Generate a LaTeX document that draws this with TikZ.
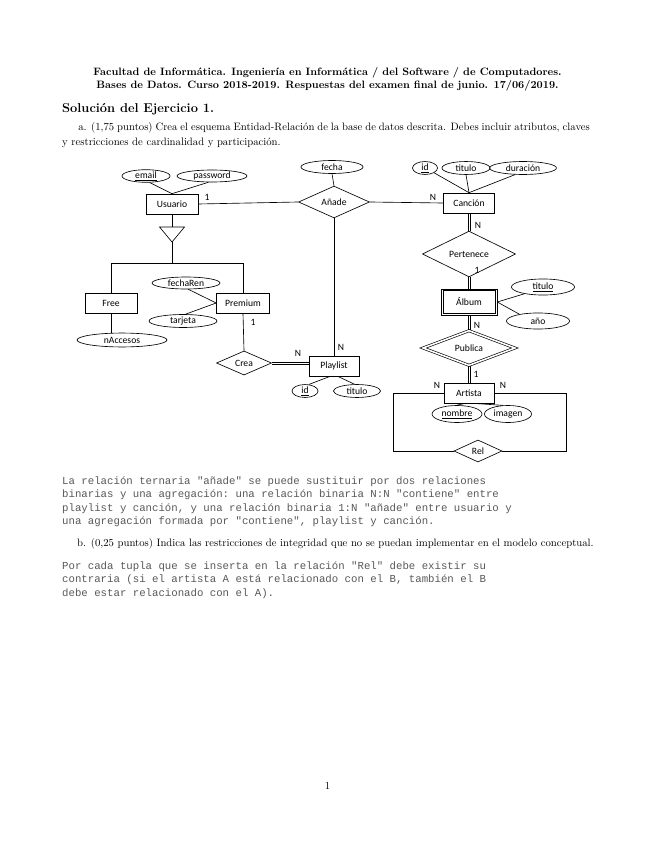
\documentclass[tikz,border=0pt]{standalone}
\usepackage{fontspec}
\setmonofont{Liberation Mono}
\newfontfamily\erfont{Carlito}
\usetikzlibrary{shapes.geometric}
\tikzset{
  er/.style={line width=0.6pt},
  entidad/.style={er, draw, rectangle, inner sep=1pt, minimum height=18.7pt, font=\erfont\fontsize{9}{10}\selectfont},
  relacion/.style={er, draw, diamond, inner sep=0pt, font=\erfont\fontsize{9}{10}\selectfont},
  reldebil/.style={relacion, double, double distance=1.5pt},
  atributo/.style={er, draw, ellipse, inner sep=0pt, font=\erfont\fontsize{9}{10}\selectfont},
  card/.style={inner sep=0pt, font=\erfont\fontsize{9}{10}\selectfont},
  texto/.style={inner sep=0pt, font=\fontsize{10}{13.1}\selectfont},
  codigo/.style={inner sep=0pt, anchor=base west, text=black!65, font=\ttfamily\fontsize{10}{12}\selectfont},
}
% lineas dobles (participacion total)
\newcommand{\dobleV}[2]{\draw[er] ([xshift=-1.1pt]#1) -- ([xshift=-1.1pt]#2); \draw[er] ([xshift=1.1pt]#1) -- ([xshift=1.1pt]#2);}
\newcommand{\dobleH}[2]{\draw[er] ([yshift=-1.1pt]#1) -- ([yshift=-1.1pt]#2); \draw[er] ([yshift=1.1pt]#1) -- ([yshift=1.1pt]#2);}
\begin{document}
\begin{tikzpicture}[x=0.9344pt, y=-0.9344pt]
\useasboundingbox[fill=white] (0,0) rectangle (655,848);

% cabecera
\node[texto, anchor=base] (cab1) at (327.5,76) {\bfseries Facultad de Informática. Ingeniería en Informática / del Software / de Computadores.};
\node[texto, anchor=base] (cab2) at (327.5,89) {\bfseries Bases de Datos. Curso 2018-2019. Respuestas del examen final de junio. 17/06/2019.};
\node[texto, anchor=base west, font=\fontsize{12}{14}\bfseries] (ejer) at (62,113) {Solución del Ejercicio 1.};
\node[texto, anchor=base west, text width=493pt, align=justify] (apta) at (62,131)
  {\hspace*{15pt}a. (1,75 puntos) Crea el esquema Entidad-Relación de la base de datos descrita. Debes incluir atributos, claves\linebreak y restricciones de cardinalidad y participación.};

% usuario y especializacion
\node[entidad, minimum width=48.6pt] (usuario) at (172,204) {Usuario};
\node[atributo, minimum width=44.9pt, minimum height=11.2pt] (email) at (146,176) {\underline{email}};
\node[atributo, minimum width=65.4pt, minimum height=11.2pt] (password) at (212,176) {password};
\draw[er] (email.300) -- (usuario.north);
\draw[er] (password.240) -- (usuario.north);
\coordinate (isaizq) at (159.5,227);
\coordinate (isader) at (184.5,227);
\coordinate (isabot) at (172,242);
\coordinate (barra) at (172,263);
\draw[er] (isaizq) -- (isader) -- (isabot) -- cycle;
\draw[er] (usuario.south) -- (usuario.south |- isaizq);
\draw[er] (isabot) -- (barra);
\node[entidad, minimum width=48.6pt] (free) at (111,303) {Free};
\node[entidad, minimum width=49.5pt] (premium) at (243,303) {Premium};
\draw[er] (free.north) -- (free.north |- barra) -- (premium.north |- barra) -- (premium.north);
\node[atributo, minimum width=63.5pt, minimum height=11.2pt] (fecharen) at (186,283) {fechaRen};
\node[atributo, minimum width=63.5pt, minimum height=12.1pt] (tarjeta) at (183,321) {tarjeta};
\node[atributo, minimum width=84pt, minimum height=13pt] (naccesos) at (122,340) {nAccesos};
\draw[er] (fecharen.-70) -- (premium.west);
\draw[er] (tarjeta.70) -- (premium.west);
\draw[er] (free.south) -- (free.south |- naccesos.north);

% playlist
\node[relacion, minimum width=51.4pt, minimum height=20.6pt] (crea) at (244,363) {Crea};
\node[entidad, minimum width=46.7pt] (playlist) at (334,366) {Playlist};
\node[atributo, minimum width=24.3pt, minimum height=12.1pt] (idp) at (305,391) {\underline{id}};
\node[atributo, minimum width=44pt, minimum height=12.1pt] (titulop) at (357,391) {titulo};
\draw[er] (premium.south) -- (crea.north);
\dobleH{crea.east}{crea.east -| playlist.west}
\draw[er] (playlist.250) -- (idp.60);
\draw[er] (playlist.290) -- (titulop.110);
\node[card] (c1) at (253,322) {1};
\node[card] (c2) at (298,353) {N};
\node[card] (c3) at (341,347) {N};

% anade
\node[relacion, minimum width=66.3pt, minimum height=21.5pt] (anade) at (334,202) {Añade};
\node[atributo, minimum width=58pt, minimum height=12.1pt] (fecha) at (332,167) {fecha};
\draw[er] (fecha.south) -- (anade.north);
\draw[er] (usuario.east) -- (anade.west);
\draw[er] (playlist.north) -- (anade.south);
\node[card] (c4) at (207,197) {1};

% cancion y album
\node[entidad, minimum width=47.7pt] (cancion) at (469,203) {Canción};
\node[atributo, minimum width=23.4pt, minimum height=12.1pt] (idc) at (425,168) {\underline{id}};
\node[atributo, minimum width=44.9pt, minimum height=12.1pt] (tituloc) at (466,168) {titulo};
\node[atributo, minimum width=62.6pt, minimum height=12.1pt] (duracion) at (523,168) {duración};
\draw[er] (idc.south east) -- (cancion.north);
\draw[er] (tituloc.south) -- (cancion.north);
\draw[er] (duracion.220) -- (cancion.north);
\draw[er] (anade.east) -- (cancion.west);
\node[card] (c5) at (433,197) {N};
\node[relacion, minimum width=87pt, minimum height=20.6pt] (pertenece) at (469,254) {Pertenece};
\dobleV{cancion.south}{pertenece.north}
\node[card] (c6) at (478,225) {N};
\node[entidad, minimum width=52.3pt, minimum height=24.3pt] (album) at (469,302) {Álbum};
\draw[er] ([shift={(2pt,-2pt)}]album.north west) rectangle ([shift={(-2pt,2pt)}]album.south east);
\dobleV{pertenece.south}{album.north}
\node[card] (c7) at (477,270) {1};
\node[atributo, minimum width=58.9pt, minimum height=15pt] (tituloa) at (543,287) {\underline{titulo}};
\node[atributo, minimum width=58.9pt, minimum height=15pt] (ano) at (538,321) {año};
\draw[er] (album.east) -- (tituloa.200);
\draw[er] (album.east) -- (ano.160);

% artista
\node[reldebil, minimum width=86pt, minimum height=23.5pt] (publica) at (469,348) {Publica};
\dobleV{album.south}{publica.north}
\node[card] (c8) at (477,325) {N};
\node[entidad, minimum width=46.7pt] (artista) at (469,393) {Artista};
\dobleV{publica.south}{artista.north}
\node[card] (c9) at (476,374) {1};
\node[atributo, minimum width=46.7pt, minimum height=15.9pt] (nombre) at (457,414) {\underline{nombre}};
\node[atributo, minimum width=44pt, minimum height=15.9pt] (imagen) at (508,414) {imagen};
\draw[er] (artista.250) -- (nombre.north);
\draw[er] (artista.290) -- (imagen.120);
\node[relacion, minimum width=44.9pt, minimum height=20.6pt] (rel) at (478,451) {Rel};
\coordinate (bucleizq) at (393,451);
\coordinate (bucleder) at (566,451);
\draw[er] (artista.west) -| (bucleizq) -- (rel.west);
\draw[er] (artista.east) -| (bucleder) -- (rel.east);
\node[card] (c10) at (437,385) {N};
\node[card] (c11) at (503,385) {N};

% respuestas
\node[codigo] (r1) at (62,484) {La relación ternaria "añade" se puede sustituir por dos relaciones};
\node[codigo] (r2) at (62,497.5) {binarias y una agregación: una relación binaria N:N "contiene" entre};
\node[codigo] (r3) at (62,511) {playlist y canción, y una relación binaria 1:N "añade" entre usuario y};
\node[codigo] (r4) at (62,524.5) {una agregación formada por "contiene", playlist y canción.};
\node[texto, anchor=base west] (aptb) at (77,546) {b. (0,25 puntos) Indica las restricciones de integridad que no se puedan implementar en el modelo conceptual.};
\node[codigo] (r5) at (62,569) {Por cada tupla que se inserta en la relación "Rel" debe existir su};
\node[codigo] (r6) at (62,582.5) {contraria (si el artista A está relacionado con el B, también el B};
\node[codigo] (r7) at (62,596) {debe estar relacionado con el A).};
\node[texto, anchor=base] (pag) at (327.5,789) {1};
\end{tikzpicture}
\end{document}
